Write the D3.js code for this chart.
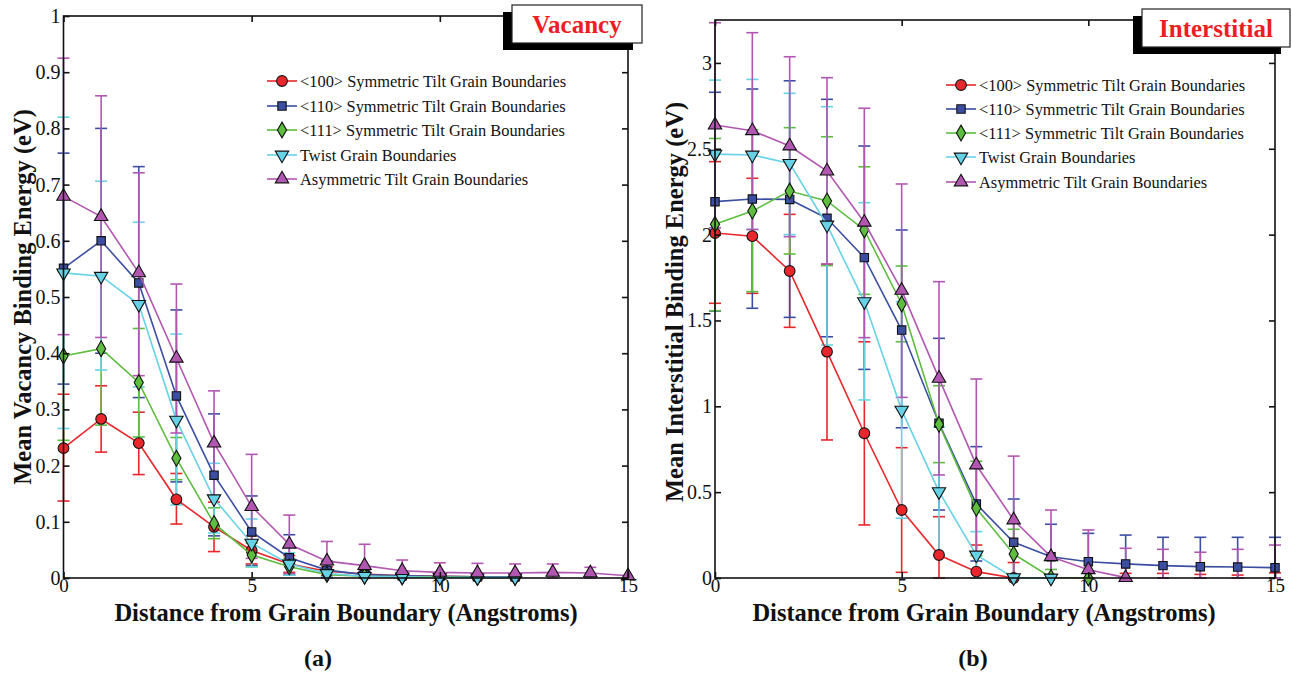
<!DOCTYPE html>
<html>
<head>
<meta charset="utf-8">
<script src="https://cdnjs.cloudflare.com/ajax/libs/d3/7.8.5/d3.min.js"></script>
<style>
  html, body { margin: 0; padding: 0; background: #fff; }
  svg { display: block; }
  text { font-family: "Liberation Serif", "Times New Roman", serif; }
</style>
</head>
<body>
<svg id="chart" width="1292" height="673"></svg>
<script>
// ---------- DATA ----------
const distances = [0, 1, 2, 3, 4, 5, 6, 7, 8, 9, 10, 11, 12, 13, 14, 15];
const seriesNames = [
  "<100> Symmetric Tilt Grain Boundaries",
  "<110> Symmetric Tilt Grain Boundaries",
  "<111> Symmetric Tilt Grain Boundaries",
  "Twist Grain Boundaries",
  "Asymmetric Tilt Grain Boundaries"
];
const seriesColors = ["#e8262b", "#3b4ea2", "#5dbd3f", "#67d2e6", "#b257b1"];
const seriesSymbols = ["circle", "square", "diamond", "triangleDown", "triangleUp"];

// (a) Vacancy
const vacXTicks = [0, 5, 10, 15];
const vacYTicks = [0, 0.1, 0.2, 0.3, 0.4, 0.5, 0.6, 0.7, 0.8, 0.9, 1];
const vac100   = [0.231, 0.283, 0.240, 0.140, 0.091, 0.049, 0.025, 0.012, 0.007, 0.004, 0.003, 0.002, 0.002, null, null, null];
const vac100Lo = [0.137, 0.224, 0.184, 0.096, 0.047, 0.025, 0.010, 0.004, 0.002, 0.001, 0.001, 0.001, 0.001, null, null, null];
const vac100Hi = [0.327, 0.342, 0.295, 0.186, 0.135, 0.075, 0.040, 0.020, 0.012, 0.007, 0.005, 0.004, 0.004, null, null, null];
const vac110   = [0.551, 0.600, 0.525, 0.324, 0.183, 0.082, 0.036, 0.014, 0.006, 0.004, 0.003, 0.002, 0.002, null, null, null];
const vac110Lo = [0.345, 0.400, 0.321, 0.171, 0.075, 0.022, 0.005, 0.002, 0.001, 0.001, 0.001, 0.001, 0.001, null, null, null];
const vac110Hi = [0.756, 0.800, 0.732, 0.477, 0.292, 0.146, 0.077, 0.030, 0.012, 0.008, 0.006, 0.004, 0.004, null, null, null];
const vac111   = [0.395, 0.408, 0.348, 0.213, 0.097, 0.041, 0.020, 0.006, 0.003, 0.002, 0.002, 0.001, 0.001, null, null, null];
const vac111Lo = [0.245, 0.272, 0.251, 0.175, 0.070, 0.020, 0.005, 0.002, 0.001, 0.001, 0.001, 0.000, 0.000, null, null, null];
const vac111Hi = [0.545, 0.543, 0.444, 0.250, 0.125, 0.062, 0.035, 0.012, 0.006, 0.004, 0.003, 0.002, 0.002, null, null, null];
const vacTwist   = [0.543, 0.537, 0.487, 0.281, 0.141, 0.062, 0.025, 0.008, 0.003, 0.002, 0.001, 0.001, 0.001, null, null, null];
const vacTwistLo = [0.266, 0.370, 0.340, 0.130, 0.080, 0.020, 0.005, 0.002, 0.001, 0.001, 0.000, 0.000, 0.000, null, null, null];
const vacTwistHi = [0.820, 0.706, 0.633, 0.434, 0.204, 0.105, 0.045, 0.014, 0.006, 0.004, 0.002, 0.002, 0.002, null, null, null];
const vacAsym   = [0.679, 0.643, 0.543, 0.391, 0.240, 0.127, 0.060, 0.030, 0.022, 0.013, 0.010, 0.009, 0.009, 0.010, 0.009, 0.004];
const vacAsymLo = [0.433, 0.428, 0.360, 0.258, 0.145, 0.035, 0.008, 0.000, 0.000, 0.000, 0.000, 0.000, 0.000, 0.000, 0.000, null];
const vacAsymHi = [0.925, 0.858, 0.721, 0.523, 0.333, 0.220, 0.112, 0.065, 0.060, 0.032, 0.027, 0.026, 0.025, 0.025, 0.019, null];

// (b) Interstitial
const intXTicks = [0, 5, 10, 15];
const intYTicks = [0, 0.5, 1, 1.5, 2, 2.5, 3];
const int100   = [2.009, 1.991, 1.788, 1.318, 0.843, 0.396, 0.134, 0.037, 0.000, null, null, null, null, null, null, null];
const int100Lo = [1.600, 1.658, 1.460, 0.804, 0.309, 0.033, 0.000, 0.000, 0.000, null, 0.000, 0.000, 0.000, 0.000, 0.000, 0.000];
const int100Hi = [2.425, 2.328, 2.118, 1.827, 1.376, 0.759, 0.357, 0.192, 0.090, null, 0.030, 0.027, 0.027, 0.021, 0.017, 0.030];
const int110   = [2.192, 2.207, 2.205, 2.095, 1.866, 1.444, 0.901, 0.431, 0.208, 0.124, 0.095, 0.082, 0.072, 0.066, 0.064, 0.060];
const int110Lo = [1.555, 1.571, 1.518, 1.405, 1.215, 0.875, 0.396, 0.099, 0.000, 0.000, 0.000, 0.000, 0.000, 0.000, 0.000, 0.000];
const int110Hi = [2.829, 2.848, 2.896, 2.788, 2.516, 2.027, 1.396, 0.765, 0.460, 0.313, 0.260, 0.250, 0.237, 0.237, 0.237, 0.237];
const int111   = [2.060, 2.137, 2.254, 2.196, 2.027, 1.596, 0.895, 0.406, 0.140, 0.003, 0.000, null, null, null, null, null];
const int111Lo = [1.557, 1.668, 1.887, 1.820, 1.652, 1.376, 0.672, 0.130, 0.000, 0.000, null, null, null, null, null, null];
const int111Hi = [2.560, 2.610, 2.623, 2.570, 2.395, 1.817, 1.120, 0.680, 0.284, 0.050, null, null, null, null, null, null];
const intTwist   = [2.469, 2.464, 2.415, 2.056, 1.610, 0.978, 0.503, 0.134, 0.002, 0.000, null, null, null, null, null, null];
const intTwistLo = [2.040, 2.030, 2.000, 1.357, 1.037, 0.348, 0.130, 0.000, 0.000, 0.000, null, null, null, null, null, null];
const intTwistHi = [2.900, 2.904, 2.823, 2.745, 2.186, 1.610, 0.880, 0.270, 0.005, 0.000, null, null, null, null, null, null];
const intAsym   = [2.638, 2.605, 2.516, 2.370, 2.072, 1.675, 1.163, 0.658, 0.338, 0.124, 0.048, 0.002, null, null, null, null];
const intAsymLo = [2.040, 2.030, 1.988, 1.829, 1.400, 1.052, 0.600, 0.150, 0.000, 0.000, 0.000, 0.000, 0.000, 0.000, 0.000, 0.000];
const intAsymHi = [3.234, 3.176, 3.036, 2.914, 2.736, 2.295, 1.726, 1.159, 0.710, 0.396, 0.280, 0.173, 0.167, 0.150, 0.167, 0.192];

// ---------- DRAWING ----------
const svg = d3.select("#chart");

const symbolTypes = {
  circle: { type: d3.symbolCircle, size: 90, rot: 0 },
  square: { type: d3.symbolSquare, size: 70, rot: 0 },
  diamond: { type: d3.symbolDiamond, size: 72, rot: 0 },
  triangleUp: { type: d3.symbolTriangle, size: 78, rot: 0 },
  triangleDown: { type: d3.symbolTriangle, size: 78, rot: 180 }
};

function drawPanel(cfg) {
  const x = d3.scaleLinear().domain(cfg.xDomain).range([cfg.left, cfg.right]);
  const y = d3.scaleLinear().domain(cfg.yDomain).range([cfg.bottom, cfg.top]);
  const g = svg.append("g");

  // Error bars
  cfg.series.forEach((s, si) => {
    const color = seriesColors[si];
    const eg = g.append("g");
    distances.forEach((d, i) => {
      const lo = s.lo[i], hi = s.hi[i];
      if (lo == null || hi == null) return;
      const yl = y(Math.max(lo, cfg.yDomain[0]));
      const yh = y(Math.min(hi, cfg.yDomain[1]));
      eg.append("line").attr("x1", x(d)).attr("x2", x(d)).attr("y1", yl).attr("y2", yh)
        .attr("stroke", color).attr("stroke-width", 1.6);
      eg.append("line").attr("x1", x(d) - 6).attr("x2", x(d) + 6).attr("y1", yl).attr("y2", yl)
        .attr("stroke", color).attr("stroke-width", 1.6);
      if (hi <= cfg.yDomain[1])
        eg.append("line").attr("x1", x(d) - 6).attr("x2", x(d) + 6).attr("y1", y(hi)).attr("y2", y(hi))
          .attr("stroke", color).attr("stroke-width", 1.6);
    });
  });
  // Lines and markers
  cfg.series.forEach((s, si) => {
    const color = seriesColors[si];
    const pts = distances.map((d, i) => [d, s.v[i]]).filter(p => p[1] != null);
    g.append("path").datum(pts)
      .attr("d", d3.line().x(p => x(p[0])).y(p => y(p[1])))
      .attr("fill", "none").attr("stroke", color).attr("stroke-width", 1.6);
    const sym = symbolTypes[seriesSymbols[si]];
    g.selectAll(null).data(pts).enter().append("path")
      .attr("d", d3.symbol().type(sym.type).size(sym.size))
      .attr("transform", p => `translate(${x(p[0])},${y(p[1])}) rotate(${sym.rot})`)
      .attr("fill", color).attr("stroke", "#111").attr("stroke-width", 1.1);
  });

  // Frame
  g.append("rect").attr("x", cfg.left).attr("y", cfg.top)
    .attr("width", cfg.right - cfg.left).attr("height", cfg.bottom - cfg.top)
    .attr("fill", "none").attr("stroke", "#111").attr("stroke-width", 1.6);

  // Axes via d3 axis, ticks inward
  const axB = d3.axisBottom(x).tickValues(cfg.xTicks).tickSizeInner(-6).tickSizeOuter(0);
  const axT = d3.axisTop(x).tickValues(cfg.xTicks).tickSizeInner(-6).tickSizeOuter(0).tickFormat("");
  const axL = d3.axisLeft(y).tickValues(cfg.yTicks).tickSizeInner(-6).tickSizeOuter(0).tickFormat(cfg.yFormat);
  const axR = d3.axisRight(y).tickValues(cfg.yTicks).tickSizeInner(-6).tickSizeOuter(0).tickFormat("");
  const styleAxis = sel => {
    sel.select(".domain").remove();
    sel.selectAll(".tick line").attr("stroke", "#111").attr("stroke-width", 1.6);
    sel.selectAll(".tick text").attr("fill", "#111").attr("font-size", 19)
      .attr("font-family", "Liberation Serif, Times New Roman, serif");
  };
  g.append("g").attr("transform", `translate(0,${cfg.bottom})`).call(axB).call(styleAxis)
    .selectAll(".tick text").attr("y", 0).attr("dy", "0.76em");
  g.append("g").attr("transform", `translate(0,${cfg.top})`).call(axT).call(styleAxis);
  g.append("g").attr("transform", `translate(${cfg.left},0)`).call(axL).call(styleAxis)
    .selectAll(".tick text").attr("x", -3).attr("font-size", 20);
  g.append("g").attr("transform", `translate(${cfg.right},0)`).call(axR).call(styleAxis);

  // Axis titles
  g.append("text").attr("x", cfg.xTitleX).attr("y", 621).attr("text-anchor", "middle")
    .attr("font-size", 24.5).attr("font-weight", "bold").attr("fill", "#111").text(cfg.xTitle);
  g.append("text").attr("transform", `translate(${cfg.yTitleX},${cfg.yTitleY}) rotate(-90)`)
    .attr("text-anchor", "middle").attr("font-size", 24.5).attr("font-weight", "bold")
    .attr("fill", "#111").text(cfg.yTitle);
  g.append("text").attr("x", cfg.capX).attr("y", 666).attr("text-anchor", "middle")
    .attr("font-size", 24).attr("font-weight", "bold").attr("fill", "#111").text(cfg.caption);

  // Legend
  const lg = g.append("g");
  seriesNames.forEach((name, si) => {
    const ly = cfg.legendY[si];
    lg.append("line").attr("x1", cfg.legendX).attr("x2", cfg.legendX + 30)
      .attr("y1", ly).attr("y2", ly).attr("stroke", seriesColors[si]).attr("stroke-width", 1.6);
    const sym = symbolTypes[seriesSymbols[si]];
    lg.append("path").attr("d", d3.symbol().type(sym.type).size(sym.size))
      .attr("transform", `translate(${cfg.legendX + 15},${ly}) rotate(${sym.rot})`)
      .attr("fill", seriesColors[si]).attr("stroke", "#111").attr("stroke-width", 1.1);
    lg.append("text").attr("x", cfg.legendX + 33).attr("y", ly).attr("dy", "0.35em")
      .attr("font-size", 16.4).attr("fill", "#111").text(name);
  });

  // Label box with shadow
  const b = cfg.box;
  g.append("rect").attr("x", b.x - 9).attr("y", b.y + 7).attr("width", b.w).attr("height", b.h).attr("fill", "#000");
  g.append("rect").attr("x", b.x).attr("y", b.y).attr("width", b.w).attr("height", b.h)
    .attr("fill", "#fff").attr("stroke", "#222").attr("stroke-width", 1.2);
  g.append("text").attr("x", b.x + b.w / 2).attr("y", b.y + b.h / 2).attr("dy", "0.35em")
    .attr("text-anchor", "middle").attr("font-size", 25).attr("font-weight", "bold")
    .attr("fill", "#ee1c24").text(b.label);
}

drawPanel({
  left: 63.5, right: 628, top: 16, bottom: 578,
  xDomain: [0, 15], yDomain: [0, 1],
  xTicks: vacXTicks, yTicks: vacYTicks,
  yFormat: d => (d === 0 || d === 1) ? String(d) : d.toFixed(1),
  series: [
    { v: vac100, lo: vac100Lo, hi: vac100Hi },
    { v: vac110, lo: vac110Lo, hi: vac110Hi },
    { v: vac111, lo: vac111Lo, hi: vac111Hi },
    { v: vacTwist, lo: vacTwistLo, hi: vacTwistHi },
    { v: vacAsym, lo: vacAsymLo, hi: vacAsymHi }
  ],
  xTitle: "Distance from Grain Boundary (Angstroms)", xTitleX: 346,
  yTitle: "Mean Vacancy Binding Energy (eV)", yTitleX: 31, yTitleY: 297,
  caption: "(a)", capX: 318,
  legendX: 267, legendY: [81, 106, 130, 155, 179],
  box: { x: 512, y: 5, w: 130, h: 38, label: "Vacancy" }
});

drawPanel({
  left: 715, right: 1275, top: 20, bottom: 578,
  xDomain: [0, 15], yDomain: [0, 3.25],
  xTicks: intXTicks, yTicks: intYTicks,
  yFormat: d => String(d),
  series: [
    { v: int100, lo: int100Lo, hi: int100Hi },
    { v: int110, lo: int110Lo, hi: int110Hi },
    { v: int111, lo: int111Lo, hi: int111Hi },
    { v: intTwist, lo: intTwistLo, hi: intTwistHi },
    { v: intAsym, lo: intAsymLo, hi: intAsymHi }
  ],
  xTitle: "Distance from Grain Boundary (Angstroms)", xTitleX: 984,
  yTitle: "Mean Interstitial Binding Energy (eV)", yTitleX: 683, yTitleY: 302,
  caption: "(b)", capX: 973,
  legendX: 946, legendY: [85, 109, 133, 157, 182],
  box: { x: 1142, y: 9, w: 148, h: 38, label: "Interstitial" }
});
</script>
</body>
</html>
